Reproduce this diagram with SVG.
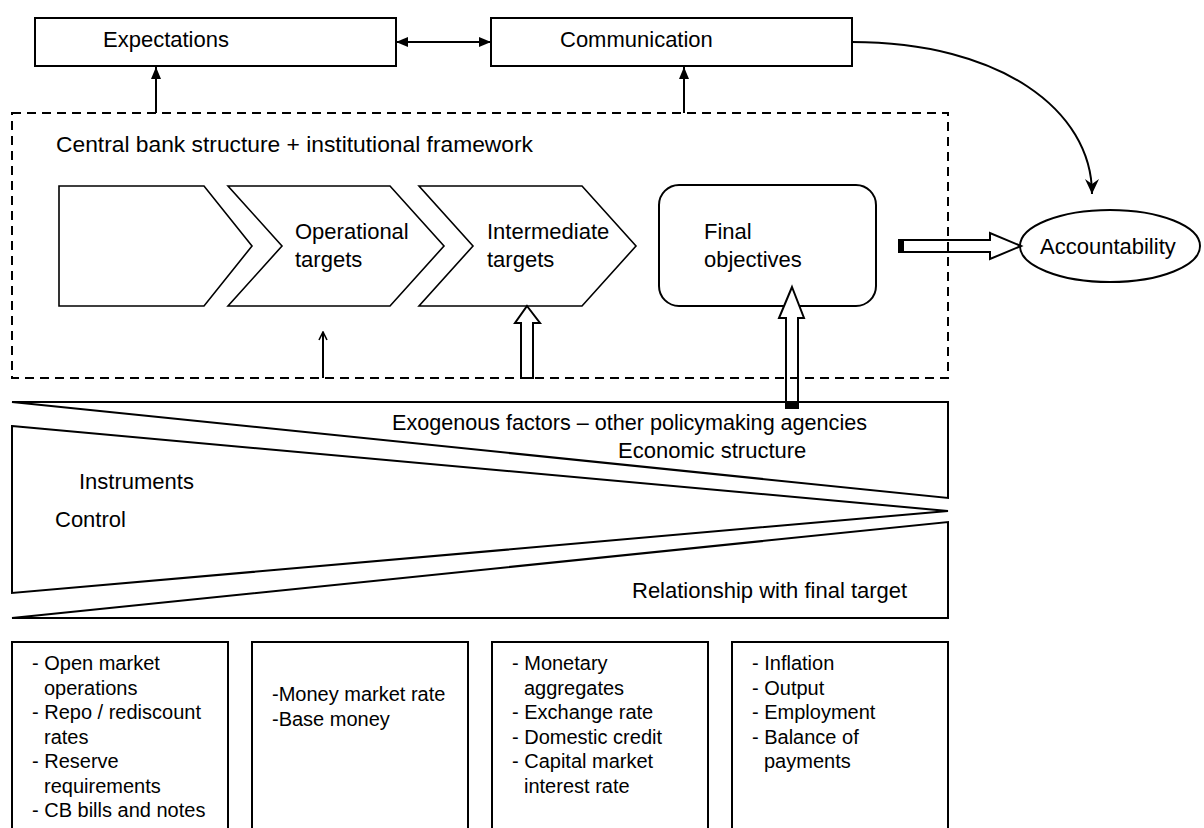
<svg xmlns="http://www.w3.org/2000/svg" width="1204" height="828" viewBox="0 0 1204 828">
<defs>
<style>
.box{fill:#fff;stroke:#000;stroke-width:2}
.thin{fill:#fff;stroke:#000;stroke-width:1.6}
.ln{fill:none;stroke:#000;stroke-width:2}
.dash{fill:none;stroke:#000;stroke-width:2;stroke-dasharray:9,6}
.hollow{fill:#fff;stroke:#000;stroke-width:2}
text{font-family:"Liberation Sans",Arial,sans-serif;font-size:22px;fill:#000}
.lst{font-size:20px}
</style>
<marker id="tri" viewBox="0 0 12 10" refX="12" refY="5" markerWidth="12" markerHeight="10" markerUnits="userSpaceOnUse" orient="auto-start-reverse"><path d="M0,0 L12,5 L0,10 z" fill="#000"/></marker>
<marker id="vee" viewBox="0 0 10 10" refX="9" refY="5" markerWidth="10" markerHeight="10" markerUnits="userSpaceOnUse" orient="auto"><path d="M1,1 L9,5 L1,9" fill="none" stroke="#000" stroke-width="1.6"/></marker>
<marker id="barb" viewBox="0 0 16 14" refX="15" refY="7" markerWidth="16" markerHeight="14" markerUnits="userSpaceOnUse" orient="auto"><path d="M0,0 L15,7 L0,14 L5,7 z" fill="#000"/></marker>
</defs>
<rect width="1204" height="828" fill="#fff"/>

<g id="expectations"><rect class="box" x="35" y="18" width="361" height="48"/><text x="103" y="47">Expectations</text></g>
<g id="communication"><rect class="box" x="491" y="18" width="361" height="48"/><text x="560" y="47">Communication</text></g>

<g id="chevron-instruments"><polygon class="thin" points="59,186 204,186 252,246 204,306 59,306"/></g>
<g id="operational-targets"><polygon class="thin" points="228,186 390,186 444,246 390,306 228,306 282,246"/><text x="295" y="239">Operational</text><text x="295" y="267">targets</text></g>
<g id="intermediate-targets"><polygon class="thin" points="419,186 582,186 636,246 582,306 419,306 473,246"/><text x="487" y="239">Intermediate</text><text x="487" y="267">targets</text></g>
<g id="final-objectives"><rect class="box" x="659" y="185" width="217" height="121" rx="20" ry="20"/><text x="704" y="239">Final</text><text x="704" y="267">objectives</text></g>
<g id="accountability"><ellipse class="box" cx="1110" cy="246" rx="90" ry="36"/><text x="1040" y="254">Accountability</text></g>

<g id="band">
<polygon class="box" points="12,402 948,402 948,498"/>
<polygon class="box" points="12,426 948,511 12,593"/>
<polygon class="box" points="12,618 948,522 948,618"/>
<text x="392" y="430" textLength="475" lengthAdjust="spacingAndGlyphs">Exogenous factors – other policymaking agencies</text>
<text x="618" y="458">Economic structure</text>
<text x="79" y="489">Instruments</text>
<text x="55" y="527">Control</text>
<text x="632" y="598">Relationship with final target</text>
</g>

<g id="list-instruments"><rect class="box" x="12" y="642" width="216" height="200"/>
<text class="lst" x="32" y="670">- Open market</text><text class="lst" x="44" y="694.5">operations</text><text class="lst" x="32" y="719">- Repo / rediscount</text><text class="lst" x="44" y="743.5">rates</text><text class="lst" x="32" y="768">- Reserve</text><text class="lst" x="44" y="792.5">requirements</text><text class="lst" x="32" y="817">- CB bills and notes</text></g>
<g id="list-operational"><rect class="box" x="252" y="642" width="216" height="200"/>
<text class="lst" x="272" y="701">-Money market rate</text><text class="lst" x="272" y="726">-Base money</text></g>
<g id="list-intermediate"><rect class="box" x="492" y="642" width="216" height="200"/>
<text class="lst" x="512" y="670">- Monetary</text><text class="lst" x="524" y="694.5">aggregates</text><text class="lst" x="512" y="719">- Exchange rate</text><text class="lst" x="512" y="743.5">- Domestic credit</text><text class="lst" x="512" y="768">- Capital market</text><text class="lst" x="524" y="792.5">interest rate</text></g>
<g id="list-final"><rect class="box" x="732" y="642" width="216" height="200"/>
<text class="lst" x="752" y="670">- Inflation</text><text class="lst" x="752" y="694.5">- Output</text><text class="lst" x="752" y="719">- Employment</text><text class="lst" x="752" y="743.5">- Balance of</text><text class="lst" x="764" y="768">payments</text></g>

<g id="connectors">
<line class="ln" x1="396" y1="42" x2="491" y2="42" marker-start="url(#tri)" marker-end="url(#tri)"/>
<line class="ln" x1="156" y1="113" x2="156" y2="67" marker-end="url(#tri)"/>
<line class="ln" x1="684" y1="113" x2="684" y2="67" marker-end="url(#tri)"/>
<path class="ln" d="M852,42 C1000,42 1092,110 1092,194" marker-end="url(#barb)"/>
<line class="ln" x1="323" y1="378" x2="323" y2="332" marker-end="url(#vee)"/>
<polygon class="hollow" points="527,306 540,323 533,323 533,378 521,378 521,323 515,323"/>
<polygon class="hollow" points="792,287 804,318 798,318 798,408 786,408 786,318 779,318"/>
<rect x="786" y="401" width="12" height="7" fill="#000"/>
<polygon class="hollow" points="1021,246 990,259 990,252 899,252 899,240 990,240 990,233"/>
<rect x="899" y="240" width="5" height="12" fill="#000"/>
</g>

<g id="framework"><rect class="dash" x="12" y="113" width="936" height="265"/><text x="56" y="152" textLength="477" lengthAdjust="spacingAndGlyphs">Central bank structure + institutional framework</text></g>
</svg>
